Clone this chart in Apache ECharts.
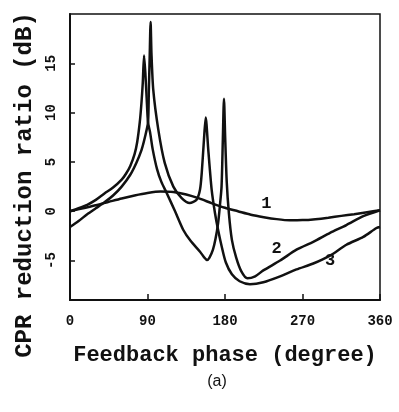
<!DOCTYPE html>
<html>
<head>
<meta charset="utf-8">
<script src="https://cdn.jsdelivr.net/npm/echarts@6/dist/echarts.min.js"></script>
<style>
  html, body { margin: 0; padding: 0; background: #fff; }
  #chart { width: 399px; height: 412px; }
</style>
</head>
<body>
<div id="chart"></div>
<script>
// curve 1
const phase1 = [0, 15, 30, 45, 60, 75, 90, 105, 120, 135, 150, 165, 180, 195, 210, 225, 240, 255, 270, 285, 300, 315, 330, 345, 360]
const db1 = [0, 0.3, 0.6, 0.95, 1.3, 1.6, 1.85, 2.0, 1.95, 1.7, 1.3, 0.8, 0.35, 0, -0.35, -0.6, -0.8, -0.92, -0.9, -0.8, -0.65, -0.47, -0.3, -0.1, 0.1]

// curve 2
const phase2 = [0, 10, 20, 30, 40, 50, 60, 65, 70, 75, 78, 81, 83, 84.5, 86, 87.5, 89, 90.6, 93, 96, 101, 106, 112, 122, 131.6, 140, 151, 156, 159, 162, 166, 169, 172, 174, 176, 177.5, 178.8, 180.2, 182, 184.5, 188, 193, 199, 206, 215, 224.5, 244, 263, 282.5, 302, 321, 340.6, 360]
const db2 = [0, 0.3, 0.65, 1.15, 1.8, 2.4, 3.2, 3.8, 4.6, 5.8, 7.0, 9.0, 11.0, 13.0, 15.8, 14.0, 11.5, 9.0, 8.0, 6.3, 4.3, 3.0, 1.9, 0, -1.9, -3.0, -4.1, -4.7, -4.95, -4.7, -3.9, -2.8, -1.2, 0.5, 2.5, 7.3, 11.4, 7.5, 3.0, -0.2, -2.9, -4.7, -6.1, -6.8, -6.6, -6.0, -5.0, -3.9, -3.1, -2.2, -1.4, -0.5, 0.1]

// curve 3
const phase3 = [0, 10, 20, 30, 40, 50, 60, 70, 77, 83, 87, 90.6, 91.5, 92.5, 93.6, 94.6, 96.7, 102.5, 110, 120, 129.7, 139, 147, 151, 153, 155.6, 157.6, 160.6, 164.5, 168.4, 172, 176.5, 181, 188, 197, 209, 224.5, 244, 263, 282.5, 302, 321, 340.6, 356, 360]
const db3 = [-1.6, -1.0, -0.3, 0.3, 0.9, 1.6, 2.5, 3.7, 4.9, 6.2, 7.5, 9.0, 12.0, 15.5, 19.2, 16.0, 12.3, 8.3, 4.9, 2.5, 1.34, 0.83, 1.17, 2.2, 3.9, 7.3, 9.5, 6.2, 2.2, -0.2, -1.9, -3.7, -5.2, -6.4, -7.1, -7.4, -7.2, -6.6, -5.9, -5.3, -4.5, -3.4, -2.6, -1.7, -1.6]

const curveNames = ['1', '2', '3']
const labelPhase = [228, 240, 302]
const labelDb = [0.8, -3.8, -5.0]

const xTicks = [0, 90, 180, 270, 360]
const yTicks = [-5, 0, 5, 10, 15]

const zip = (xs, ys) => xs.map((x, i) => [x, ys[i]])
const curves = [zip(phase1, db1), zip(phase2, db2), zip(phase3, db3)]

const monoFont = '"Liberation Mono", "DejaVu Sans Mono", monospace'

const chart = echarts.init(document.getElementById('chart'), null, { renderer: 'canvas' })

chart.setOption({
  animation: false,
  backgroundColor: '#fff',
  grid: {
    left: 70, right: 19, top: 14, bottom: 112,
    show: true, borderColor: '#111', borderWidth: 1.5,
  },
  xAxis: {
    type: 'value',
    min: 0, max: 360, interval: 90,
    name: 'Feedback phase (degree)',
    nameLocation: 'middle',
    nameGap: 44,
    nameTextStyle: { fontFamily: monoFont, fontWeight: 'bold', fontSize: 22, color: '#111' },
    axisLine: { onZero: false, lineStyle: { color: '#111', width: 2 } },
    axisTick: { inside: true, length: 6, lineStyle: { color: '#111', width: 1.5 } },
    axisLabel: {
      customValues: xTicks,
      margin: 14,
      fontFamily: monoFont, fontWeight: 'bold', fontSize: 14, color: '#111',
    },
    splitLine: { show: false },
  },
  yAxis: {
    type: 'value',
    min: -9, max: 20,
    axisLine: { show: true, onZero: false, lineStyle: { color: '#111', width: 2 } },
    axisTick: { show: true, inside: true, length: 5, customValues: yTicks, lineStyle: { color: '#111', width: 1.5 } },
    axisLabel: {
      customValues: yTicks,
      rotate: 90,
      margin: 12,
      fontFamily: monoFont, fontWeight: 'bold', fontSize: 14, color: '#111',
    },
    splitLine: { show: false },
  },
  graphic: [
    {
      type: 'text',
      x: 25, y: 185,
      rotation: Math.PI / 2,
      style: {
        text: 'CPR reduction ratio (dB)',
        fontFamily: monoFont, fontWeight: 'bold', fontSize: 24, fill: '#111',
        align: 'center', verticalAlign: 'middle',
      },
    },
    {
      type: 'text',
      x: 217, y: 382,
      style: {
        text: '(a)',
        fontFamily: '"Liberation Sans", Arial, sans-serif', fontSize: 16, fill: '#111',
        align: 'center', verticalAlign: 'middle',
      },
    },
  ],
  series: curves.map((data, i) => ({
    type: 'line',
    name: curveNames[i],
    data: data,
    showSymbol: false,
    smooth: 0.25,
    lineStyle: { color: '#111', width: 2.5 },
    markPoint: {
      symbol: 'circle',
      symbolSize: 1,
      itemStyle: { color: 'rgba(0,0,0,0)' },
      data: [{ coord: [labelPhase[i], labelDb[i]], value: curveNames[i] }],
      label: {
        show: true, position: 'inside', formatter: curveNames[i],
        fontFamily: monoFont, fontWeight: 'bold', fontSize: 17, color: '#111',
      },
    },
  })),
})
</script>
</body>
</html>
